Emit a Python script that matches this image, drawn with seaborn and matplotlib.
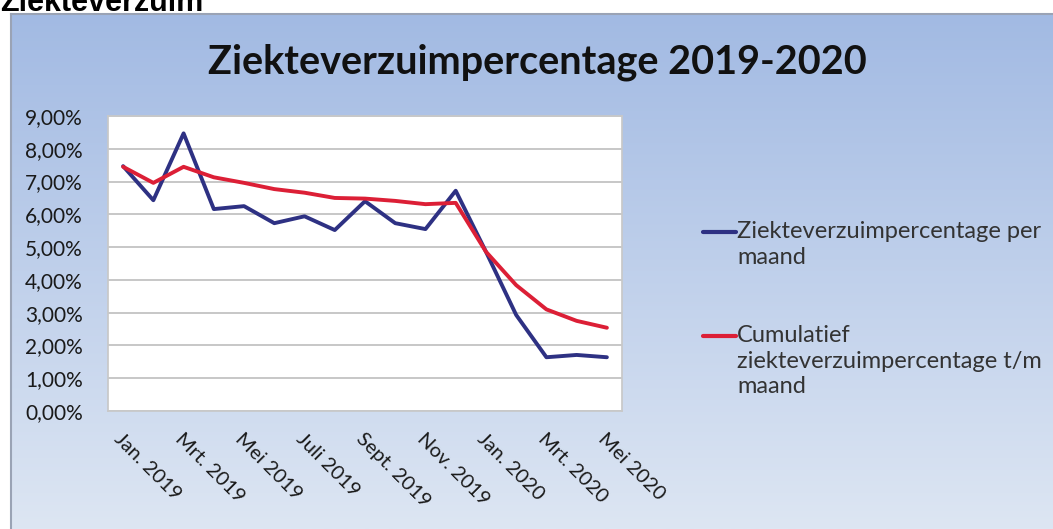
import numpy as np
import pandas as pd
import seaborn as sns
import matplotlib.pyplot as plt
from matplotlib.colors import LinearSegmentedColormap
from matplotlib.lines import Line2D
from matplotlib.ticker import FuncFormatter

# monthly data Jan 2019 - May 2020
maanden = ['Jan. 2019', 'Feb. 2019', 'Mrt. 2019', 'Apr. 2019', 'Mei 2019', 'Juni 2019',
           'Juli 2019', 'Aug. 2019', 'Sept. 2019', 'Okt. 2019', 'Nov. 2019', 'Dec. 2019',
           'Jan. 2020', 'Feb. 2020', 'Mrt. 2020', 'Apr. 2020', 'Mei 2020']
per_maand = [7.47, 6.43, 8.47, 6.16, 6.25, 5.73, 5.94, 5.52, 6.40, 5.73, 5.55, 6.72,
             4.86, 2.93, 1.64, 1.71, 1.64]
cumulatief = [7.45, 6.96, 7.45, 7.13, 6.96, 6.77, 6.66, 6.50, 6.48, 6.41, 6.31, 6.35,
              4.86, 3.84, 3.10, 2.75, 2.54]
y_ticks = [0, 1, 2, 3, 4, 5, 6, 7, 8, 9]

label_blauw = 'Ziekteverzuimpercentage per\nmaand'
label_rood = 'Cumulatief\nziekteverzuimpercentage t/m\nmaand'
kleuren = ['#2e3183', '#dc1f36']

sns.set_theme(style='white')
plt.rcParams['font.family'] = ['Lato', 'DejaVu Sans']

df = pd.DataFrame({'maand': maanden, 'pos': range(len(maanden)),
                   label_blauw: per_maand, label_rood: cumulatief})
long = df.melt(id_vars=['maand', 'pos'], var_name='reeks', value_name='pct')

fig = plt.figure(figsize=(10.53, 5.29), dpi=100)
W, H = 1053, 529

# gradient background of the chart frame
bg = fig.add_axes([11 / W, 0, 1 - 11 / W, 1 - 14 / H])
grad = np.linspace(0, 1, 256).reshape(-1, 1)
cmap = LinearSegmentedColormap.from_list('bg', ['#a2bae3', '#dde6f3'])
bg.imshow(grad, aspect='auto', cmap=cmap, extent=[0, 1, 0, 1])
bg.set_xticks([])
bg.set_yticks([])
for s in ['right', 'bottom']:
    bg.spines[s].set_visible(False)
for s in ['left', 'top']:
    bg.spines[s].set_color('#9aa3b5')
    bg.spines[s].set_linewidth(1.5)

# heading of the page, cut off at the top like in the screenshot
fig.text(0.0, 1 - 11 / H, 'Ziekteverzuim', fontsize=22, fontweight='bold',
         family=['Liberation Sans', 'DejaVu Sans'], va='baseline', ha='left', color='black')

ax = fig.add_axes([108 / W, (H - 411) / H, (622 - 108) / W, (411 - 116) / H])
ax.set_facecolor('white')
sns.lineplot(data=long, x='pos', y='pct', hue='reeks',
             palette=kleuren, linewidth=2.8, ax=ax, legend=False)

ax.set_xlim(-0.5, len(maanden) - 0.5)
ax.set_ylim(0, 9)
ax.set_yticks(y_ticks)
ax.yaxis.set_major_formatter(FuncFormatter(lambda v, p: f'{v:.2f}%'.replace('.', ',')))
ax.set_xticks(range(0, len(maanden), 2))
ax.set_xticklabels(maanden[::2], rotation=-45, ha='left', va='top',
                   rotation_mode='anchor', fontsize=14.5, color='#1a1a1a')
ax.tick_params(axis='y', labelsize=15, labelcolor='#1a1a1a', pad=18, length=0)
ax.tick_params(axis='x', pad=14, length=0)
ax.grid(axis='y', color='#bdbdbd', linewidth=1.2)
ax.set_axisbelow(True)
for s in ax.spines.values():
    s.set_color('#c8c8c8')
ax.set_xlabel('')
ax.set_ylabel('')

# legend: handle next to the first text line, as in Excel
for kleur, label, ytop in zip(kleuren, [label_blauw, label_rood], [232, 336]):
    yf = 1 - ytop / H
    fig.add_artist(Line2D([703 / W, 736 / W], [yf, yf], color=kleur, linewidth=3,
                          transform=fig.transFigure))
    fig.text(737 / W, yf + 11 / H, label, fontsize=17, color='#333333',
             ha='left', va='top', linespacing=1.27)

fig.text(537 / W, 1 - 62 / H, 'Ziekteverzuimpercentage 2019-2020', fontsize=28.5,
         fontweight='bold', ha='center', va='center', color='#111111')

fig.savefig('out.png', dpi=100)
